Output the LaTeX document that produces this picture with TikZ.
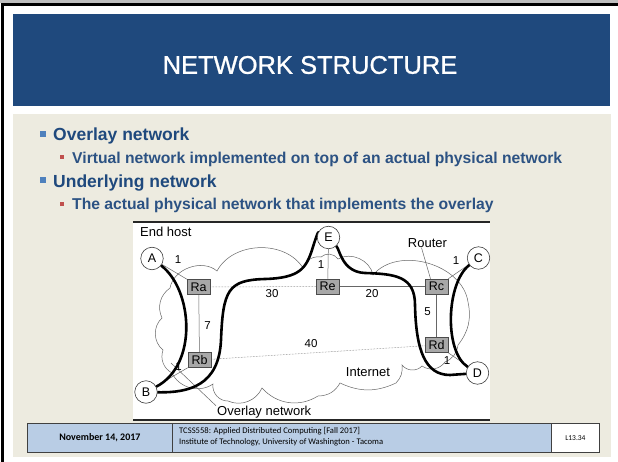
\documentclass[tikz,border=0pt]{standalone}
\usepackage{fontspec}
\setmainfont{Liberation Sans}
\newfontfamily\footfont{Carlito}
\newfontfamily\titlefont{Liberation Sans}[FakeBold=0.9]

\definecolor{titleblue}{HTML}{1F497D}
\definecolor{slidebg}{HTML}{EDEBE0}
\definecolor{bulone}{HTML}{4F81BD}
\definecolor{bultwo}{HTML}{C0504D}
\definecolor{subtext}{HTML}{2C5283}
\definecolor{footblue}{HTML}{B9CDE5}
\definecolor{routerfill}{HTML}{A8A8A8}
\definecolor{linkgray}{HTML}{666666}

\pgfdeclarelayer{backdrop}
\pgfdeclarelayer{links}
\pgfsetlayers{backdrop,links,main}

\tikzset{
  fs/.style={font=\fontsize{#1}{#1}\selectfont},
  host/.style={circle, draw=black!75, fill=white, line width=0.6pt,
    minimum size=22.5pt, inner sep=0pt, fs=12.5},
  router/.style={rectangle, draw=black!70, fill=routerfill, line width=0.5pt,
    minimum width=23pt, minimum height=15pt, inner sep=0pt, fs=12.5},
  lbl/.style={inner sep=0pt, fs=13},
  wlbl/.style={inner sep=0pt, fs=11.5},
  link/.style={draw=linkgray, line width=0.5pt},
  vlink/.style={link, densely dotted},
  overlaypath/.style={line width=2.6pt, line cap=round},
  cloudline/.style={draw=black!60, line width=0.5pt},
  lvlone/.style={anchor=base west, inner sep=0pt, text=titleblue,
    font=\bfseries\fontsize{17.5}{17.5}\selectfont},
  lvltwo/.style={anchor=base west, inner sep=0pt, text=subtext,
    font=\bfseries\fontsize{15.7}{15.7}\selectfont},
  footbox/.style={draw=black!75, line width=0.8pt, fill=footblue,
    minimum height=29pt, inner sep=0pt, anchor=north west},
}

\begin{document}
\begin{tikzpicture}[x=1pt, y=-1pt]
\useasboundingbox (0,0) rectangle (618,462);

% slide background
\begin{pgfonlayer}{backdrop}
  \fill[white] (0,0) rectangle (618,462);
  \fill[black!25] (0,0) rectangle (618,3.2);
  \draw[line width=2.7pt] (2.3,462) -- (2.3,4.6) -- (618,4.6);
  \fill[titleblue] (13,14) rectangle (610,106);
  \fill[slidebg] (12.7,114) rectangle (610.7,457);
  \fill[white] (133,222) rectangle (490,420);
  \draw[line width=2pt, black!85] (133,222) -- (490,222);
  \draw[line width=2pt, black!85] (133,419.5) -- (490,419.5);
\end{pgfonlayer}

% title
\node[text=white, font=\titlefont\fontsize{25.5}{26}\selectfont, inner sep=0pt] (title) at (310,65) {NETWORK STRUCTURE};

% bullets
\fill[bulone] (39.5,130.7) rectangle (45.5,136.7);
\node[lvlone] (b1) at (53,140.5) {Overlay network};
\fill[bultwo] (60,155) rectangle (64.3,159.3);
\node[lvltwo] (b1a) at (72,163.3) {Virtual network implemented on top of an actual physical network};
\fill[bulone] (39.5,177.3) rectangle (45.5,183.3);
\node[lvlone] (b2) at (53,187.5) {Underlying network};
\fill[bultwo] (60,202) rectangle (64.3,206.3);
\node[lvltwo] (b2a) at (72,210) {The actual physical network that implements the overlay};

% hosts and routers
\node[host] (A) at (152,258.5) {A};
\node[host] (B) at (146,392) {B};
\node[host] (E) at (328.5,237.5) {E};
\node[host] (C) at (478.5,258) {C};
\node[host] (D) at (477.5,373) {D};
\node[router] (Ra) at (198.7,287) {Ra};
\node[router] (Re) at (327.7,286.5) {Re};
\node[router] (Rc) at (436.5,286.5) {Rc};
\node[router] (Rb) at (199.5,360) {Rb};
\node[router] (Rd) at (436.5,345) {Rd};

% captions
\node[lbl, anchor=west] (endhost) at (140,232) {End host};
\node[lbl] (router) at (427.5,243) {Router};
\node[lbl] (internet) at (368,372.5) {Internet};
\node[lbl, anchor=west] (ovl) at (217,412) {Overlay network};

% link weights
\node[wlbl] (wa) at (178,259.5) {1};
\node[wlbl] (w30) at (272,293.5) {30};
\node[wlbl] (we) at (321,265) {1};
\node[wlbl] (w20) at (372,293.5) {20};
\node[wlbl] (wc) at (456,261) {1};
\node[wlbl] (w7) at (207.5,326) {7};
\node[wlbl] (w5) at (427.5,312) {5};
\node[wlbl] (w40) at (311,344) {40};
\node[wlbl] (wb) at (178.5,367) {1};
\node[wlbl] (wd) at (447,361) {1};

\coordinate (ovtip) at (171,363);

\begin{pgfonlayer}{links}
  % internet cloud
  \draw[cloudline] (170,288) to[bend left=60] (217,271) to[bend left=60] (303,268)
    to[bend left=40] (321,257) to[bend left=50] (338,259) to[bend left=55] (373,275)
    to[bend left=66] (468,302) to[bend left=25] (458,345) to[bend left=30] (445,362)
    to[bend left=45] (422,366) to[bend left=50] (402,365) to[bend left=25] (396,383)
    to[bend left=25] (340,383) to[bend left=30] (318,396) to[bend left=40] (262,388)
    to[bend left=45] (228,401) to[bend left=50] (213,384) to[bend left=50] (172,373)
    to[bend left=40] (163,350) to[bend left=50] (162,318) to[bend left=40] (170,288) -- cycle;

  % physical links
  \draw[link] (A) -- (Ra.north west);
  \draw[vlink] (Ra) -- (Re);
  \draw[link] (Re) -- (Rc);
  \draw[link] (E) -- (Re);
  \draw[link] (Ra) -- (Rb);
  \draw[vlink] (Rb) -- (Rd);
  \draw[link] (Rc) -- (Rd);
  \draw[link] (C) -- (Rc.north east);
  \draw[link] (Rd.south east) -- (D);
  \draw[link] (B) -- (Rb.south west);

  % pointers
  \draw[link] ([xshift=-6pt]router.south) -- ([xshift=-6pt]Rc.north);
  \draw[link] ([xshift=-1pt]ovl.north west) -- (ovtip);

  % overlay paths
  \draw[overlaypath] (A) .. controls (193,290) and (198,365) .. (B);
  \draw[overlaypath] (B) .. controls (190,393) and (219,385) .. (221,340)
    .. controls (223,290) and (228,280) .. (265,279)
    .. controls (300,278) and (306,268) .. (312,250)
    .. controls (315,240) and (318,232) .. (E);
  \draw[overlaypath] (E) .. controls (340,250) and (342,272) .. (365,273)
    .. controls (395,274) and (415,276) .. (415,305)
    .. controls (416,350) and (425,375) .. (450,375) -- (D);
  \draw[overlaypath] (C) .. controls (446,283) and (444,352) .. (D);
\end{pgfonlayer}

% footer
\node[footbox, minimum width=145pt] (datebox) at (27,423)
  {\footfont\bfseries\fontsize{10}{10}\selectfont November 14, 2017};
\node[footbox, minimum width=379pt] (coursebox) at (172,423) {};
\node[anchor=west, inner sep=0pt, align=left, font=\footfont\fontsize{8.6}{11.5}\selectfont] (coursetext) at (179,436.5)
  {TCSS558: Applied Distributed Computing [Fall 2017]\\Institute of Technology, University of Washington - Tacoma};
\node[footbox, fill=white, minimum width=48pt] (pagebox) at (551,423)
  {\footfont\fontsize{7.5}{7.5}\selectfont L13.34};
\end{tikzpicture}
\end{document}
